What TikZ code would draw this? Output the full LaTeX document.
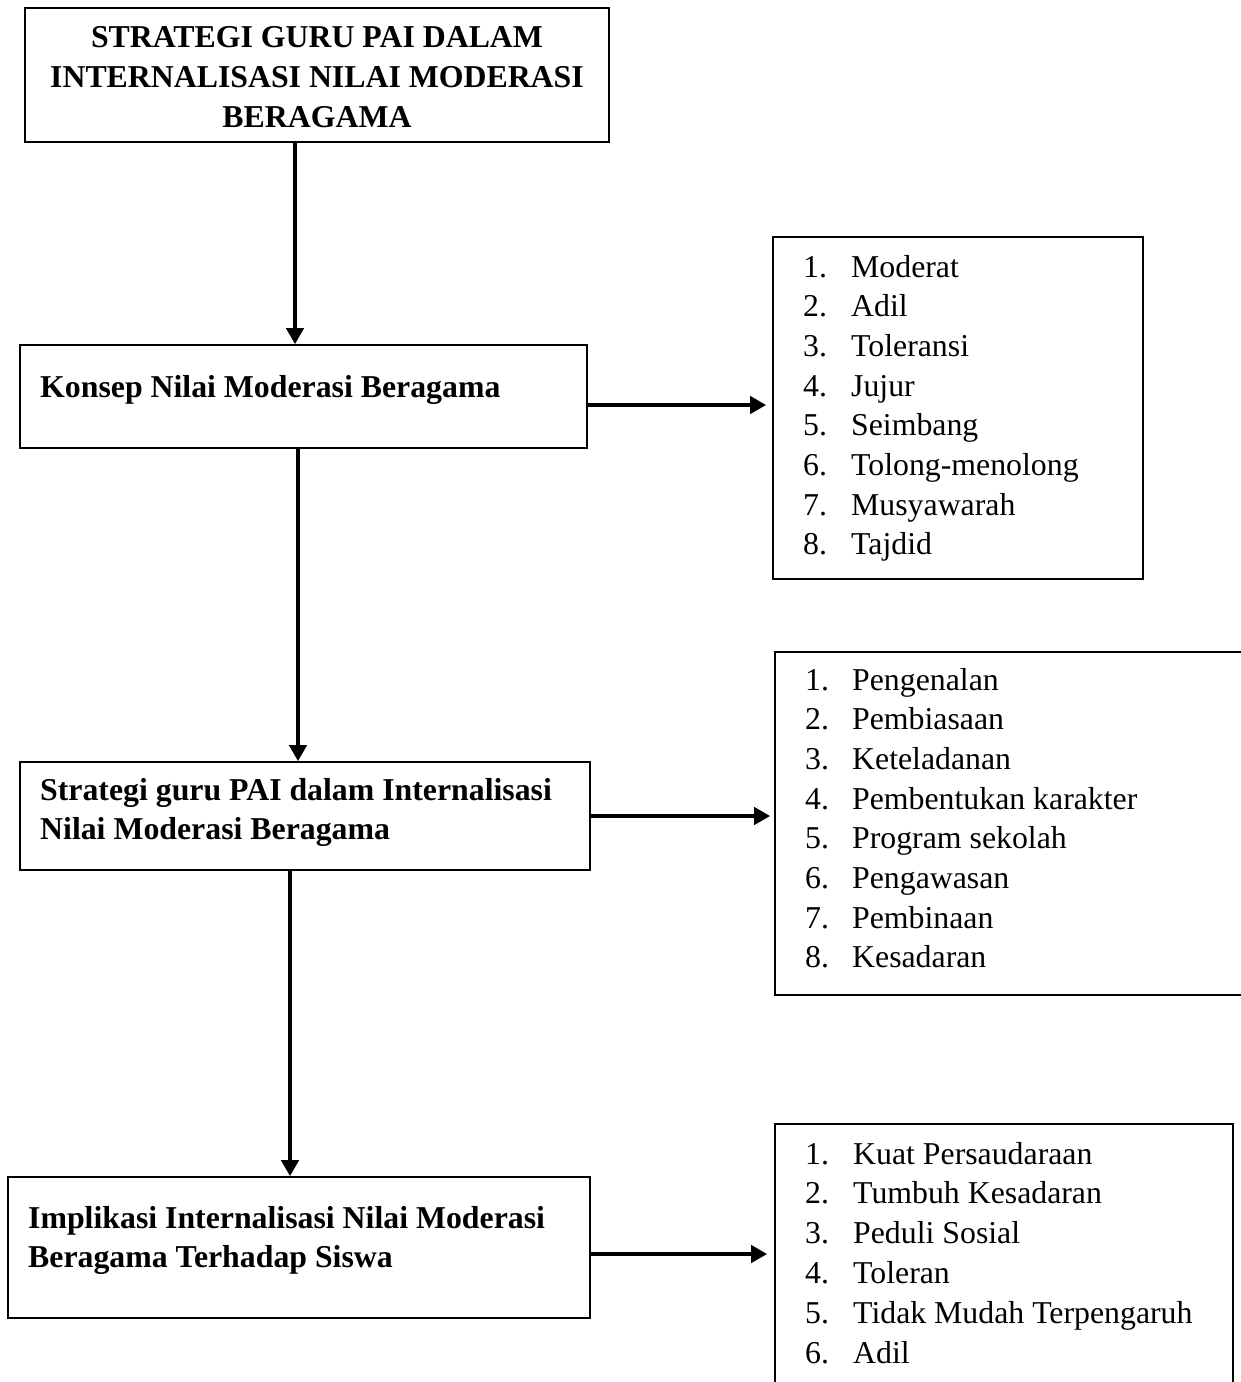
\documentclass[tikz,border=0pt]{standalone}
\usepackage{fontspec}
\setmainfont{Liberation Serif}
\usetikzlibrary{arrows.meta,calc}
\begin{document}
\begin{tikzpicture}[x=1pt,y=-1pt,
  box/.style={draw=black,line width=1.6pt,inner sep=0pt},
  txt/.style={inner sep=0pt,anchor=base west,font=\fontsize{31.8pt}{39.7pt}\selectfont},
  btxt/.style={inner sep=0pt,anchor=base west,font=\fontsize{31.8pt}{39.7pt}\selectfont\bfseries},
  ctxt/.style={inner sep=0pt,anchor=base,font=\fontsize{31.8pt}{39.7pt}\selectfont\bfseries},
  arr/.style={line width=4pt,-{Triangle[length=16pt,width=17pt]}}]
\useasboundingbox (0,0) rectangle (1241,1382);
\fill[white] (0,0) rectangle (1241,1382);
\clip (0,0) rectangle (1241,1382);

% main boxes
\node[box,minimum width=584pt,minimum height=134pt] (title) at (317,75) {};
\node[box,minimum width=567pt,minimum height=103pt] (konsep) at (303.5,396.5) {};
\node[box,minimum width=570pt,minimum height=108pt] (strategi) at (305,816) {};
\node[box,minimum width=582pt,minimum height=141pt] (impl) at (299,1247.5) {};

% list boxes
\node[box,minimum width=370pt,minimum height=342pt] (list1) at (958,408) {};
\node[box,minimum width=487pt,minimum height=343pt] (list2) at (1018.5,823.5) {};
\node[box,minimum width=458pt,minimum height=276pt] (list3) at (1004,1262) {};

% texts
\node[ctxt] (t1) at (317,47.5) {STRATEGI GURU PAI DALAM};
\node[ctxt] (t2) at (317,87.5) {INTERNALISASI NILAI MODERASI};
\node[ctxt] (t3) at (317,127) {BERAGAMA};
\node[btxt] (k1) at (40,397) {Konsep Nilai Moderasi Beragama};
\node[btxt] (s1) at (40,800) {Strategi guru PAI dalam Internalisasi};
\node[btxt] (s2) at (40,839) {Nilai Moderasi Beragama};
\node[btxt] (i1) at (28,1228) {Implikasi Internalisasi Nilai Moderasi};
\node[btxt] (i2) at (28,1267) {Beragama Terhadap Siswa};

\foreach \t [count=\n] in {Moderat,Adil,Toleransi,Jujur,Seimbang,Tolong-menolong,Musyawarah,Tajdid}
  \node[txt] (la\n) at (803,{277+(\n-1)*39.7}) {\makebox[48pt][l]{\n.}\t};
\foreach \t [count=\n] in {Pengenalan,Pembiasaan,Keteladanan,Pembentukan karakter,Program sekolah,Pengawasan,Pembinaan,Kesadaran}
  \node[txt] (lb\n) at (805,{690+(\n-1)*39.7}) {\makebox[47pt][l]{\n.}\t};
\foreach \t [count=\n] in {Kuat Persaudaraan,Tumbuh Kesadaran,Peduli Sosial,Toleran,Tidak Mudah Terpengaruh,Adil}
  \node[txt] (lc\n) at (805,{1164+(\n-1)*39.8}) {\makebox[48pt][l]{\n.}\t};

% vertical arrows
\draw[arr] ([xshift=-22pt]title.south) -- ([xshift=-22pt]title.south |- konsep.north);
\draw[arr] ([xshift=-5.5pt]konsep.south) -- ([xshift=-5.5pt]konsep.south |- strategi.north);
\draw[arr] ([xshift=-15pt]strategi.south) -- ([xshift=-15pt]strategi.south |- impl.north);

% horizontal arrows
\coordinate (a2) at ([yshift=-8.5pt]konsep.east);
\coordinate (a4) at (strategi.east);
\coordinate (a6) at ([yshift=-6.5pt]impl.east);
\draw[arr] (a2) -- ($(a2 -| list1.west)+(-6,0)$);
\draw[arr] (a4) -- ($(a4 -| list2.west)+(-4,0)$);
\draw[arr] (a6) -- ($(a6 -| list3.west)+(-7,0)$);
\end{tikzpicture}
\end{document}
